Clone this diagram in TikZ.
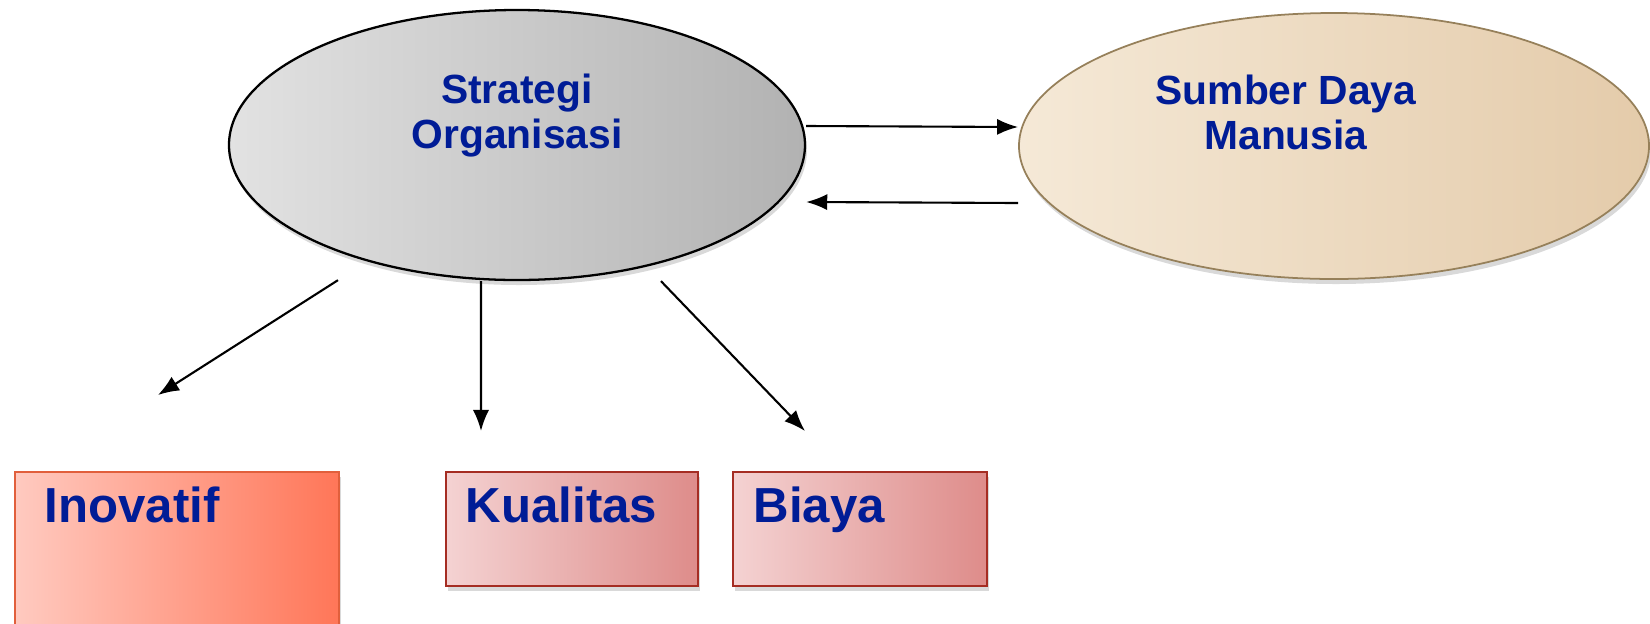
\documentclass[tikz,border=0pt]{standalone}
\usepackage{fontspec}
\setmainfont{Liberation Sans}
\usepackage{tikz}
\usetikzlibrary{shapes.geometric}
\usetikzlibrary{shadows}
\usetikzlibrary{arrows.meta}
\definecolor{txtblue}{RGB}{0,28,150}
\definecolor{grayL}{RGB}{226,226,226}
\definecolor{grayR}{RGB}{178,178,178}
\definecolor{beigeL}{RGB}{245,233,215}
\definecolor{beigeR}{RGB}{228,203,170}
\definecolor{beigeD}{RGB}{150,128,90}
\definecolor{inovL}{RGB}{255,202,192}
\definecolor{inovR}{RGB}{255,118,88}
\definecolor{inovD}{RGB}{225,95,60}
\definecolor{boxL}{RGB}{244,210,210}
\definecolor{boxR}{RGB}{222,140,138}
\definecolor{boxD}{RGB}{165,45,35}

\begin{document}
\begin{tikzpicture}[
		ovalnode/.style={draw, ellipse, inner sep=0pt, drop shadow={opacity=0.3, shadow xshift=0.02cm, shadow yshift=-0.05cm}},
		boxnode/.style={draw, rectangle, inner sep=0pt, anchor=north west, line width=0.6pt, drop shadow={opacity=0.3, shadow xshift=0.02cm, shadow yshift=-0.05cm}},
		ovaltext/.style={font=\fontsize{11.6}{12.8}\selectfont\bfseries, text=txtblue, align=center},
		boxtext/.style={font=\fontsize{14}{16}\selectfont\bfseries, text=txtblue, anchor=base west, inner sep=0pt},
		myarrow/.style={-{Latex[length=6pt,width=4.6pt]}, line width=0.6pt}
	]

	\clip (0,0) rectangle (16.5,-6.23);

	\node[ovalnode, minimum width=5.76cm, minimum height=2.70cm, left color=grayL, right color=grayR, line width=0.65pt] (strat) at (5.17,-1.45) {};
	\node[ovaltext] (stratT) at (5.17,-1.16) {Strategi\\Organisasi};

	\node[ovalnode, minimum width=6.30cm, minimum height=2.66cm, left color=beigeL, right color=beigeR, draw=beigeD, line width=0.5pt] (sdm) at (13.34,-1.46) {};
	\node[ovaltext] (sdmT) at (12.86,-1.12) {Sumber Daya\\Manusia};

	\draw[myarrow] ([yshift=0.19cm]strat.east) -- ([yshift=0.19cm]sdm.west);
	\draw[myarrow] ([yshift=-0.57cm]sdm.west) -- ([yshift=-0.57cm]strat.east);

	\node[boxnode, minimum width=3.24cm, minimum height=2.4cm, left color=inovL, right color=inovR, draw=inovD] (inov) at (0.14,-4.71) {};
	\node[boxtext] (inovT) at ([xshift=0.3cm,yshift=-0.51cm]inov.north west) {Inovatif};

	\node[boxnode, minimum width=2.52cm, minimum height=1.14cm, left color=boxL, right color=boxR, draw=boxD] (kual) at (4.45,-4.71) {};
	\node[boxtext] (kualT) at ([xshift=0.2cm,yshift=-0.51cm]kual.north west) {Kualitas};

	\node[boxnode, minimum width=2.54cm, minimum height=1.14cm, left color=boxL, right color=boxR, draw=boxD] (biaya) at (7.32,-4.71) {};
	\node[boxtext] (biayaT) at ([xshift=0.21cm,yshift=-0.51cm]biaya.north west) {Biaya};

	\coordinate (inovTip) at (1.58,-3.95);
	\coordinate (kualTip) at (4.81,-4.31);
	\coordinate (biayaTip) at (8.05,-4.31);

	\draw[myarrow] ([xshift=-1.79cm,yshift=0.01cm]strat.south) -- (inovTip);
	\draw[myarrow] ([xshift=-0.36cm]strat.south) -- (kualTip);
	\draw[myarrow] ([xshift=1.44cm]strat.south) -- (biayaTip);

\end{tikzpicture}
\end{document}
